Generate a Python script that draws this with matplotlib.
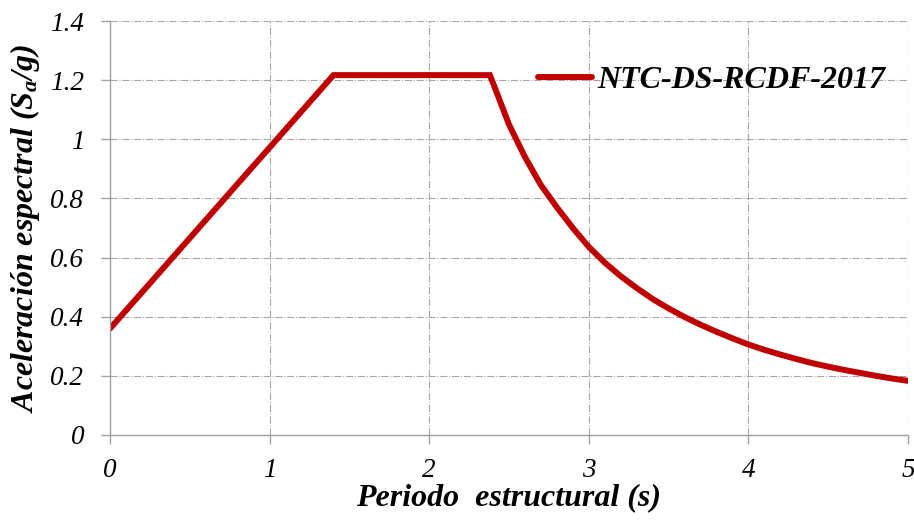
import matplotlib.pyplot as plt

plt.rcParams['font.family'] = ['Liberation Serif', 'DejaVu Serif']
plt.rcParams['mathtext.fontset'] = 'custom'
plt.rcParams['mathtext.rm'] = 'Liberation Serif:italic:bold'
plt.rcParams['mathtext.it'] = 'Liberation Serif:italic:bold'
plt.rcParams['mathtext.bf'] = 'Liberation Serif:italic:bold'

# --- spectrum values ---
periodo = [0.0, 1.4, 2.38, 2.4, 2.45, 2.5, 2.6, 2.7, 2.8, 2.9, 3.0, 3.1, 3.2,
           3.3, 3.4, 3.5, 3.6, 3.7, 3.8, 3.9, 4.0, 4.1, 4.2, 4.3, 4.4, 4.5,
           4.6, 4.7, 4.8, 4.9, 5.0]
sa = [0.36, 1.217, 1.217, 1.19, 1.12, 1.05, 0.94, 0.845, 0.77, 0.70, 0.636,
      0.583, 0.537, 0.497, 0.460, 0.428, 0.399, 0.373, 0.349, 0.327, 0.306,
      0.288, 0.272, 0.257, 0.243, 0.231, 0.220, 0.210, 0.200, 0.191, 0.183]
serie = "NTC-DS-RCDF-2017"
xticks = [0, 1, 2, 3, 4, 5]
yticks = [0, 0.2, 0.4, 0.6, 0.8, 1, 1.2, 1.4]
ytick_labels = ["0", "0.2", "0.4", "0.6", "0.8", "1", "1.2", "1.4"]

fig = plt.figure(figsize=(9.14, 5.2), dpi=100)
ax = fig.add_axes([0.1204, 0.1635, 0.8730, 0.7961])

ax.plot(periodo, sa, color="#C00000", lw=4.3, label=serie,
        solid_capstyle="round", solid_joinstyle="miter")

ax.set_xlim(0, 5)
ax.set_ylim(0, 1.4)
ax.set_xticks(xticks)
ax.set_yticks(yticks)
ax.set_yticklabels(ytick_labels)
for lab in ax.get_xticklabels() + ax.get_yticklabels():
    lab.set_fontstyle("italic")
    lab.set_fontsize(19.5)

ax.grid(True, color="#A6A6A6", ls="-.", lw=0.8)
ax.set_axisbelow(True)
for s in ["top", "right"]:
    ax.spines[s].set_visible(False)
for s in ["left", "bottom"]:
    ax.spines[s].set_color("#A0A0A0")
    ax.spines[s].set_linewidth(1.0)
ax.tick_params(axis="both", direction="out", length=6.5, color="#A0A0A0",
               width=1.0)
ax.tick_params(axis="x", pad=10)
ax.tick_params(axis="y", pad=12)

ax.set_xlabel("Periodo  estructural (s)", fontsize=23, fontweight="bold",
              fontstyle="italic", labelpad=0)
ax.set_ylabel("Aceleración espectral (S$_a$/g)", fontsize=23,
              fontweight="bold", fontstyle="italic", labelpad=6)

leg = ax.legend(loc="center right", bbox_to_anchor=(0.971, 0.857),
                frameon=False, borderaxespad=0, borderpad=0,
                handlelength=1.7, handletextpad=0.15,
                prop={"size": 23, "weight": "bold", "style": "italic"})

fig.savefig("out.png", dpi=100)
